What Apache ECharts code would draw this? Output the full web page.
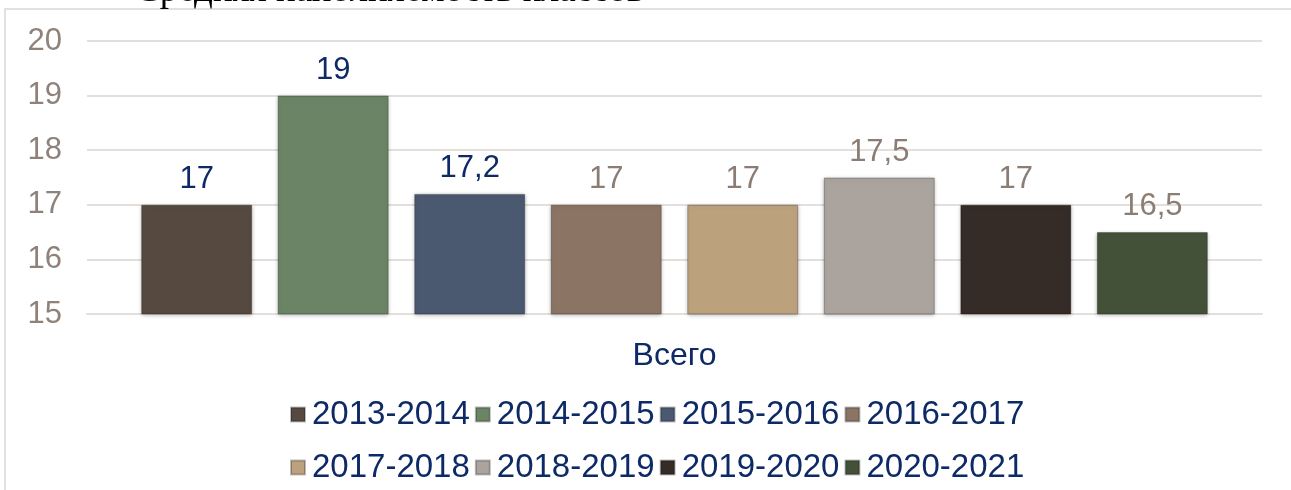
<!DOCTYPE html>
<html>
<head>
<meta charset="utf-8">
<script src="https://cdn.jsdelivr.net/npm/echarts@6/dist/echarts.min.js"></script>
<style>
  html, body { margin: 0; padding: 0; background: #fff; }
  #chart { width: 1291px; height: 490px; }
</style>
</head>
<body>
<div id="chart"></div>
<script>
// данные
const categories = ['Всего']
const years = ['2013-2014', '2014-2015', '2015-2016', '2016-2017', '2017-2018', '2018-2019', '2019-2020', '2020-2021']
const values = [17, 19, 17.2, 17, 17, 17.5, 17, 16.5]
const yTicks = [15, 16, 17, 18, 19, 20]

const colors = ['#564a40', '#6b8465', '#4a5870', '#8b7464', '#bca17d', '#aba49e', '#352b27', '#435139']
const labelColors = ['#0e2a66', '#0e2a66', '#0e2a66', '#8b7d74', '#8b7d74', '#8b7d74', '#8b7d74', '#8b7d74']

const font = '"Liberation Sans", Arial, sans-serif'
const chart = echarts.init(document.getElementById('chart'))

const legendText = { color: '#0e2a66', fontSize: 33, fontFamily: font, padding: [0, 0, 0, 2] }

chart.setOption({
  backgroundColor: '#fff',
  animation: false,
  graphic: [
    {
      type: 'rect',
      shape: { x: 5, y: 9, width: 1300, height: 500 },
      style: { fill: 'none', stroke: '#e4e0dd', lineWidth: 2 },
      silent: true
    },
    {
      type: 'text',
      x: 135, y: -27,
      style: {
        text: 'Средняя наполняемость классов',
        font: '37px "Liberation Serif", "Times New Roman", serif',
        fill: '#000'
      },
      silent: true
    }
  ],
  legend: [
    {
      data: years.slice(0, 4),
      left: 285, top: 393,
      itemWidth: 14, itemHeight: 14, itemGap: 5,
      icon: 'rect',
      textStyle: legendText
    },
    {
      data: years.slice(4),
      left: 285, top: 446,
      itemWidth: 14, itemHeight: 14, itemGap: 5,
      icon: 'rect',
      textStyle: legendText
    }
  ],
  grid: { left: 87, right: 29, top: 41, bottom: 176 },
  xAxis: {
    type: 'category',
    data: categories,
    axisLine: { show: true, lineStyle: { color: '#e4dfdb', width: 2 } },
    axisTick: { show: false },
    axisLabel: { color: '#0e2a66', fontSize: 32, fontFamily: font, margin: 26 }
  },
  yAxis: {
    type: 'value',
    min: yTicks[0], max: yTicks[yTicks.length - 1], interval: 1,
    axisLine: { show: false },
    axisTick: { show: false },
    axisLabel: { color: '#8f827a', fontSize: 31, fontFamily: font, margin: 25 },
    splitLine: { lineStyle: { color: '#e4dfdb', width: 2 } }
  },
  series: years.map((name, i) => ({
    name,
    type: 'bar',
    data: [values[i]],
    barWidth: 111,
    barGap: '23%',
    itemStyle: {
      color: colors[i],
      borderColor: 'rgba(0,0,0,0.25)',
      borderWidth: 1,
      shadowBlur: 4,
      shadowColor: 'rgba(0,0,0,0.3)',
      shadowOffsetY: 1
    },
    label: {
      show: true,
      position: 'top',
      distance: 10,
      color: labelColors[i],
      fontSize: 31,
      fontFamily: font,
      formatter: p => String(p.value).replace('.', ',')
    }
  }))
})
</script>
</body>
</html>
